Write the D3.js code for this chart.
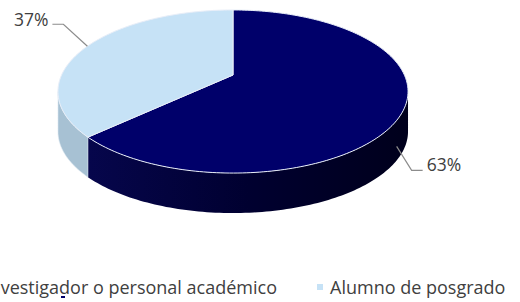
<!DOCTYPE html>
<html>
<head>
<meta charset="utf-8">
<script src="https://cdn.jsdelivr.net/npm/d3@7"></script>
<style>
  body { margin: 0; background: #fff; }
  svg { display: block; font-family: "Open Sans", sans-serif; }
</style>
</head>
<body>
<script>
// data
var categories = ["Investigador o personal académico", "Alumno de posgrado"];
var values = [63, 37];
var labels = ["63%", "37%"];
var topColors = ["#00006a", "#c6e2f6"];
var sideColors = ["#000033", "#a7c1d3"];

var width = 520, height = 302;

// tilted disc with a little perspective
var cx = 233, cy = 75, A = 171.4, B = 78.2, p = 0.2025, depth = 40;

function proj(a, r, dz) {
  var x = r * Math.sin(a), z = -r * Math.cos(a);
  var w = 1 - p * z;
  return [cx + A * x / w, cy + B * z / w + (dz || 0)];
}

function arcPoints(a0, a1, dz) {
  var n = Math.max(2, Math.ceil((a1 - a0) / 0.02));
  return d3.range(n + 1).map(function(i) { return proj(a0 + (a1 - a0) * i / n, 1, dz); });
}

var svg = d3.select("body").append("svg")
    .attr("width", width)
    .attr("height", height);

var defs = svg.append("defs");
var g0 = defs.append("linearGradient")
    .attr("id", "darkSide")
    .attr("gradientUnits", "userSpaceOnUse")
    .attr("x1", 88).attr("y1", 0).attr("x2", 408).attr("y2", 0);
g0.append("stop").attr("offset", 0).attr("stop-color", "#06064c");
g0.append("stop").attr("offset", 0.5).attr("stop-color", "#000030");
g0.append("stop").attr("offset", 1).attr("stop-color", "#00001c");

var pie = d3.pie().sort(null)(values);

// side walls, only the front half is visible
var frontA = Math.acos(-p), frontB = 2 * Math.PI - Math.acos(-p);
var line = d3.line();

svg.append("g").selectAll("path")
    .data(pie)
  .enter().append("path")
    .attr("d", function(d) {
      var a0 = Math.max(d.startAngle, frontA), a1 = Math.min(d.endAngle, frontB);
      if (a1 <= a0) return null;
      var pts = arcPoints(a0, a1, 0).concat(arcPoints(a0, a1, depth).reverse());
      return line(pts) + "Z";
    })
    .attr("fill", function(d, i) { return i == 0 ? "url(#darkSide)" : sideColors[i]; })
    .attr("stroke", function(d, i) { return i == 0 ? "none" : "#dfe9f1"; })
    .attr("stroke-width", 0.6);

// top faces
svg.append("g").selectAll("path")
    .data(pie)
  .enter().append("path")
    .attr("d", function(d) {
      return line([proj(0, 0)].concat(arcPoints(d.startAngle, d.endAngle, 0))) + "Z";
    })
    .attr("fill", function(d, i) { return topColors[i]; })
    .attr("stroke", "#e8eef8")
    .attr("stroke-width", 1);

// data labels with leader lines
var lab = svg.append("g").attr("font-size", "17.5px").attr("fill", "#404040");

pie.forEach(function(d, i) {
  var mid = (d.startAngle + d.endAngle) / 2;
  var pts;
  if (i == 0) {
    var s = proj(mid, 0.96, depth - 1);
    pts = [s, [s[0] + 15, s[1] + 24], [s[0] + 26, s[1] + 24]];
    lab.append("text")
        .attr("x", s[0] + 30).attr("y", s[1] + 25)
        .text(labels[i]);
  } else {
    var s = proj(mid, 1, 0);
    pts = [s, [s[0] - 24, s[1] - 22], [s[0] - 35, s[1] - 22]];
    lab.append("text")
        .attr("x", s[0] - 39).attr("y", s[1] - 20)
        .attr("text-anchor", "end")
        .text(labels[i]);
  }
  lab.append("path")
      .attr("d", line(pts))
      .attr("fill", "none")
      .attr("stroke", "#8c8c8c")
      .attr("stroke-width", 1.2);
});

// legend
var legend = svg.append("g").attr("font-size", "18px").attr("fill", "#404040");
var legX = [-32, 317];

categories.forEach(function(c, i) {
  legend.append("rect")
      .attr("x", legX[i]).attr("y", 284)
      .attr("width", 6).attr("height", 6)
      .attr("fill", topColors[i]);
  legend.append("text")
      .attr("x", i == 0 ? 277 : legX[i] + 13)
      .attr("y", 294)
      .attr("text-anchor", i == 0 ? "end" : "start")
      .text(c);
});

// stray swatch edge under the first entry
legend.append("rect")
    .attr("x", 61).attr("y", 296)
    .attr("width", 4).attr("height", 2)
    .attr("fill", topColors[0]);
</script>
</body>
</html>
